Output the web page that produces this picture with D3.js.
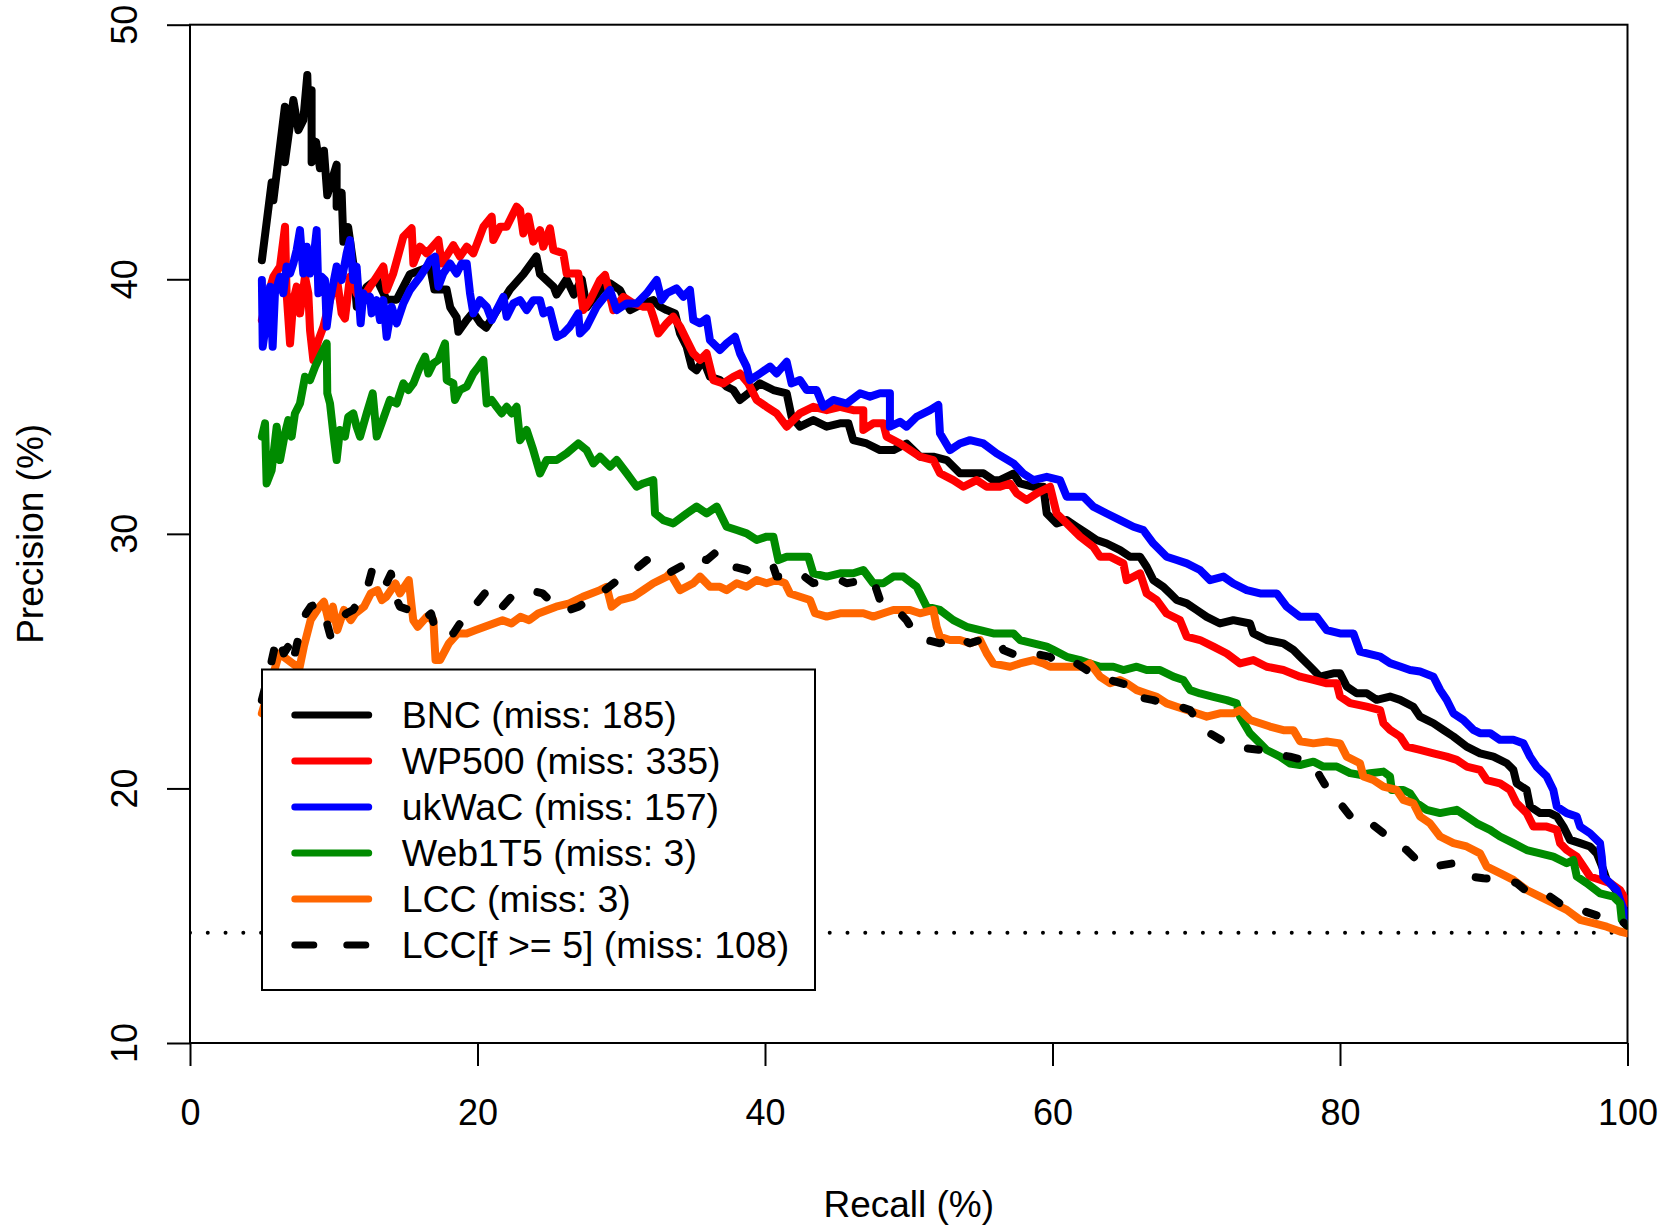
<!DOCTYPE html>
<html>
<head>
<meta charset="utf-8">
<script src="https://cdn.jsdelivr.net/npm/d3@7"></script>
<style>
  body { margin: 0; background: #fff; }
  text { font-family: "Liberation Sans", Arial, Helvetica, sans-serif; fill: #000; }
</style>
</head>
<body>
<svg id="chart"></svg>
<script>

// DATA
// --------------------------------------------------------------------------

var xTicks = [0, 20, 40, 60, 80, 100];
var yTicks = [10, 20, 30, 40, 50];
var baseline = 14.33;

// [recall %, precision %].
var bnc = [
  [5.0,40.75],[5.68,43.8],[5.8,43.1],[6.6,46.78],[6.6,44.6],[7.19,47.04],[7.54,45.86],[7.88,46.25],
  [8.16,48.02],[8.23,46.6],[8.46,47.43],[8.46,44.6],[8.77,45.4],[9.04,44.36],[9.32,45.05],[9.55,43.3],
  [10.2,44.5],[10.2,42.85],[10.55,43.4],[10.67,41.47],[11.0,42.05],[11.36,40.62],[11.6,38.92],[12.29,39.7],
  [12.99,40.0],[13.68,39.2],[14.38,39.2],[15.3,40.2],[16.7,40.5],[17.0,39.6],[17.85,39.6],[18.1,38.9],
  [18.55,38.5],[18.67,37.94],[19.25,38.4],[19.7,38.7],[20.17,38.3],[20.6,38.1],[22.26,39.6],[23.2,40.2],
  [24.1,40.9],[24.35,40.2],[25.3,39.7],[25.5,39.4],[26.2,40.0],[26.7,39.4],[27.25,40.0],[27.6,38.9],
  [28.52,39.58],[29.22,39.84],[29.91,39.58],[30.61,38.79],[31.53,39.05],[32.23,39.18],[32.7,38.92],
  [33.16,38.79],[33.74,38.66],[34.09,37.87],[34.55,37.35],[34.9,36.57],[35.24,36.43],[35.71,36.83],
  [36.17,36.17],[36.87,36.04],[37.33,35.78],[37.8,35.65],[38.26,35.26],[38.84,35.52],[39.65,35.91],
  [40.58,35.65],[41.51,35.52],[41.85,34.6],[42.43,34.21],[43.36,34.47],[44.29,34.21],[45.22,34.34],
  [45.8,34.34],[46.14,33.68],[47.07,33.55],[48.0,33.29],[48.93,33.29],[49.85,33.55],[50.78,33.03],
  [51.71,33.03],[52.64,32.9],[53.56,32.38],[54.26,32.38],[55.19,32.38],[55.88,32.11],[56.35,32.11],
  [57.28,32.37],[57.74,31.98],[58.67,31.85],[59.36,31.85],[59.6,30.8],[60.29,30.41],[60.99,30.54],
  [61.68,30.28],[62.38,30.02],[63.07,29.76],[63.77,29.62],[64.7,29.36],[65.39,29.1],[66.09,29.1],
  [66.55,28.71],[67.02,28.18],[67.71,27.92],[68.18,27.66],[68.64,27.4],[69.34,27.27],[70.03,27.01],
  [70.73,26.74],[71.65,26.48],[72.58,26.61],[73.74,26.48],[73.97,26.09],[74.9,25.83],[76.06,25.7],
  [76.76,25.44],[77.22,25.18],[77.92,24.79],[78.61,24.39],[79.54,24.52],[80.0,24.52],[80.47,24.0],
  [81.16,23.74],[81.86,23.74],[82.55,23.48],[83.48,23.61],[84.18,23.48],[85.1,23.21],[85.57,22.82],
  [86.5,22.56],[87.19,22.3],[87.89,22.04],[88.81,21.64],[89.74,21.38],[90.67,21.25],[91.6,20.99],
  [92.06,20.73],[92.29,20.2],[92.99,19.94],[93.22,19.29],[93.92,19.03],[94.61,19.03],[95.08,18.9],
  [95.54,18.5],[96.0,17.98],[96.7,17.85],[97.39,17.72],[97.86,17.45],[98.32,16.8],[98.55,16.41],
  [99.02,16.14],[99.48,15.75],[99.83,15.23],[100,14.97]
];

var wp500 = [
  [5.0,38.4],[5.33,39.18],[5.8,40.1],[6.26,40.5],[6.61,42.06],[6.72,39.45],[6.96,37.48],[7.19,39.18],
  [7.42,39.71],[7.65,38.66],[8.0,40.1],[8.23,39.45],[8.35,38.0],[8.58,36.83],[8.93,37.6],[9.28,38.14],
  [9.74,39.18],[10.2,40.1],[10.55,38.66],[10.78,38.46],[11.13,40.1],[11.59,39.45],[11.94,39.18],
  [12.52,39.71],[12.99,40.1],[13.45,40.5],[13.68,39.58],[14.14,40.23],[14.84,41.67],[15.42,42.0],
  [15.54,40.62],[16.0,41.28],[16.46,41.02],[17.28,41.54],[17.51,40.62],[18.32,41.34],[18.78,40.89],
  [19.25,41.28],[19.71,41.02],[20.41,42.06],[20.99,42.46],[21.1,41.54],[21.57,42.06],[22.03,42.06],
  [22.72,42.85],[22.96,42.72],[23.19,41.8],[23.54,42.46],[23.88,41.48],[24.35,41.93],[24.58,41.28],
  [25.04,42.0],[25.28,41.15],[25.97,41.02],[26.2,40.23],[27.01,40.23],[27.36,38.79],[27.83,39.18],
  [28.52,39.97],[28.87,40.17],[29.45,38.79],[30.14,39.31],[30.84,39.05],[31.53,38.92],[32.0,38.92],
  [32.23,38.53],[32.58,37.87],[33.16,38.27],[33.62,38.53],[34.09,38.14],[34.55,37.61],[35.01,37.09],
  [35.48,36.83],[35.94,37.09],[36.4,36.04],[37.1,35.91],[37.8,36.17],[38.26,36.3],[38.84,35.91],
  [39.42,35.26],[40.11,34.99],[40.81,34.73],[41.51,34.21],[42.43,34.73],[43.36,34.99],[44.29,34.86],
  [45.22,34.99],[46.14,34.86],[46.84,34.86],[46.84,34.08],[47.53,34.34],[48.23,34.34],[48.46,33.82],
  [49.39,33.55],[50.09,33.29],[50.78,33.03],[51.71,32.9],[52.17,32.38],[53.1,32.11],[53.8,31.85],
  [54.72,32.11],[55.42,31.85],[56.35,31.85],[57.05,31.98],[57.51,31.59],[58.2,31.33],[58.9,31.59],
  [59.83,31.85],[60.29,30.8],[60.99,30.41],[61.92,29.89],[62.84,29.49],[63.31,29.1],[64.0,29.1],
  [64.93,28.84],[65.16,28.18],[66.09,28.45],[66.55,27.66],[67.25,27.4],[67.94,26.87],[68.87,26.61],
  [69.34,25.96],[70.26,25.83],[71.19,25.57],[72.12,25.3],[73.05,24.91],[73.97,25.04],[74.9,24.78],
  [76.06,24.65],[77.22,24.39],[78.15,24.26],[79.08,24.13],[79.77,24.13],[80.0,23.61],[80.7,23.35],
  [81.86,23.21],[82.79,23.08],[83.02,22.56],[83.48,22.3],[84.18,22.04],[84.64,21.64],[85.57,21.51],
  [86.5,21.38],[87.42,21.25],[88.12,21.12],[88.81,20.86],[89.74,20.73],[90.21,20.33],[91.13,20.2],
  [91.83,19.94],[92.29,19.42],[92.99,19.03],[93.45,18.5],[94.38,18.5],[95.08,18.37],[95.31,17.85],
  [95.77,17.58],[96.47,17.32],[96.93,16.93],[97.39,16.54],[98.09,16.41],[98.79,16.28],[99.48,16.01],
  [100,15.5]
];

var ukwac = [
  [5.0,39.97],[5.06,37.35],[5.33,38.4],[5.57,39.71],[5.75,37.35],[5.91,39.45],[6.26,40.1],[6.49,39.45],
  [6.72,40.5],[6.96,40.23],[7.19,40.62],[7.42,41.15],[7.65,41.93],[7.88,40.23],[8.12,41.28],[8.35,40.23],
  [8.58,40.75],[8.81,41.93],[8.93,39.45],[9.16,40.1],[9.39,39.97],[9.51,38.14],[9.74,39.18],[10.2,40.5],
  [10.55,39.97],[10.9,41.02],[11.13,41.54],[11.36,39.97],[11.59,40.5],[11.87,38.27],[12.06,39.45],
  [12.29,39.18],[12.52,39.31],[12.64,38.66],[12.99,39.18],[13.22,38.4],[13.45,39.18],[13.68,37.74],
  [14.03,38.92],[14.38,38.27],[14.84,39.05],[15.3,39.58],[16.0,40.1],[16.46,40.5],[16.7,40.75],
  [17.04,40.89],[17.28,39.71],[17.62,40.23],[18.09,40.62],[18.55,40.23],[18.9,40.62],[19.25,40.62],
  [19.48,39.45],[19.71,38.66],[20.17,39.18],[20.64,38.92],[20.99,38.4],[21.33,38.79],[21.8,39.31],
  [22.03,38.53],[22.49,39.05],[22.96,39.18],[23.42,38.79],[23.88,39.18],[24.35,39.18],[24.58,38.66],
  [25.04,38.79],[25.51,37.74],[25.97,37.87],[26.43,38.14],[27.01,38.66],[27.13,37.87],[27.59,38.14],
  [28.29,38.92],[29.22,39.58],[29.68,38.79],[30.38,39.05],[31.07,39.05],[31.77,39.45],[32.46,39.97],
  [32.81,39.18],[33.16,39.45],[33.85,39.64],[34.32,39.31],[34.78,39.58],[35.01,38.4],[35.48,38.27],
  [35.94,38.46],[36.17,37.61],[36.87,37.22],[37.33,37.48],[37.91,37.74],[38.26,37.09],[38.72,36.57],
  [38.95,36.04],[39.65,36.3],[40.35,36.57],[40.81,36.3],[41.51,36.76],[41.85,35.91],[42.43,36.04],
  [42.9,35.65],[43.59,35.65],[44.06,34.99],[44.75,35.26],[45.68,35.12],[46.61,35.52],[47.3,35.39],
  [48.0,35.52],[48.69,35.52],[48.69,34.21],[49.39,34.4],[49.85,34.21],[50.55,34.6],[51.48,34.86],
  [52.06,35.06],[52.17,33.95],[52.87,33.29],[53.56,33.55],[54.26,33.68],[55.19,33.55],[56.11,33.16],
  [57.28,32.77],[57.97,32.37],[58.67,32.11],[59.6,32.24],[60.52,32.11],[60.99,31.46],[62.15,31.46],
  [62.84,31.07],[63.77,30.8],[64.7,30.54],[65.63,30.28],[66.32,30.15],[67.02,29.62],[67.94,29.1],
  [68.64,28.97],[69.34,28.84],[70.26,28.58],[70.96,28.18],[71.89,28.32],[72.58,28.05],[73.51,27.79],
  [74.44,27.66],[75.6,27.66],[76.29,27.14],[77.22,26.74],[78.38,26.74],[79.07,26.22],[80.0,26.09],
  [80.93,26.09],[81.39,25.37],[82.79,25.18],[83.48,24.92],[84.18,24.79],[84.87,24.65],[85.57,24.59],
  [86.5,24.39],[86.96,23.87],[87.42,23.48],[87.89,22.95],[88.58,22.69],[89.28,22.3],[89.74,22.17],
  [90.44,22.17],[91.13,21.91],[92.06,21.91],[92.76,21.77],[93.22,21.25],[93.68,20.86],[94.38,20.47],
  [94.84,19.94],[95.08,19.29],[95.77,19.03],[96.47,18.9],[96.7,18.5],[97.39,18.24],[98.09,17.85],
  [98.21,17.32],[98.32,16.54],[98.79,16.28],[99.25,16.01],[99.48,15.62],[99.83,15.1],[100,14.84]
];

var web1t5 = [
  [5.0,33.82],[5.22,34.34],[5.33,31.98],[5.68,32.5],[6.03,34.21],[6.26,32.9],[6.61,33.95],[6.84,34.47],
  [7.07,33.82],[7.3,34.73],[7.65,35.12],[8.0,36.17],[8.35,36.04],[8.7,36.56],[9.04,36.96],[9.51,37.48],
  [9.55,35.52],[9.74,35.12],[9.97,33.95],[10.2,32.9],[10.43,34.08],[10.78,33.82],[11.01,34.6],
  [11.36,34.73],[11.59,34.21],[11.83,33.82],[12.29,34.73],[12.71,35.52],[12.99,33.82],[13.33,34.34],
  [13.91,35.26],[14.38,35.12],[14.84,35.91],[15.19,35.65],[15.54,35.91],[16.0,36.56],[16.35,36.96],
  [16.58,36.3],[16.93,36.7],[17.28,36.83],[17.74,37.48],[17.86,36.04],[18.32,35.91],[18.43,35.26],
  [18.78,35.65],[19.25,35.78],[19.71,36.3],[20.06,36.56],[20.41,36.83],[20.64,35.12],[20.99,35.26],
  [21.33,34.99],[21.68,34.73],[22.03,34.99],[22.38,34.73],[22.72,34.99],[22.96,33.68],[23.42,34.08],
  [23.88,33.29],[24.35,32.37],[24.81,32.9],[25.51,32.9],[26.2,33.16],[27.01,33.55],[27.59,33.29],
  [28.06,32.77],[28.52,33.03],[29.22,32.64],[29.68,32.9],[30.38,32.38],[31.07,31.85],[31.53,31.98],
  [32.23,32.11],[32.35,30.8],[32.93,30.54],[33.62,30.41],[34.55,30.8],[35.24,31.07],[35.94,30.8],
  [36.64,31.07],[37.33,30.28],[38.03,30.15],[38.72,30.02],[39.42,29.76],[40.11,29.89],[40.58,29.89],
  [40.93,28.97],[41.51,29.1],[42.43,29.1],[43.01,29.1],[43.36,28.45],[44.29,28.32],[45.22,28.45],
  [46.14,28.45],[46.84,28.58],[47.53,28.06],[48.23,28.06],[48.93,28.32],[49.62,28.32],[50.55,27.92],
  [51.24,27.14],[52.17,27.01],[53.1,26.61],[54.03,26.35],[54.96,26.22],[55.88,26.09],[57.28,26.09],
  [57.74,25.83],[58.67,25.7],[59.6,25.57],[60.06,25.44],[60.99,25.17],[61.92,25.04],[62.61,24.91],
  [63.31,24.78],[64.23,24.78],[64.93,24.65],[65.86,24.78],[66.55,24.65],[67.48,24.65],[68.41,24.39],
  [69.1,24.26],[69.57,23.86],[70.26,23.73],[71.19,23.6],[72.12,23.47],[72.81,23.34],[73.05,22.82],
  [73.74,22.16],[74.44,21.77],[74.9,21.51],[75.83,21.25],[76.52,20.98],[77.22,20.92],[78.15,21.05],
  [78.84,20.86],[79.77,20.86],[80.7,20.6],[81.39,20.53],[82.09,20.6],[83.02,20.66],[83.48,20.47],
  [83.6,19.94],[84.41,19.94],[84.87,19.81],[85.34,19.42],[86.03,19.16],[86.96,19.03],[88.12,19.16],
  [88.81,18.9],[89.51,18.63],[90.44,18.37],[91.13,18.11],[92.06,17.85],[92.99,17.58],[93.92,17.45],
  [94.84,17.32],[95.77,17.06],[96.23,17.19],[96.47,16.54],[97.16,16.28],[98.09,15.88],[99.02,15.75],
  [99.48,15.49],[99.6,14.84],[100,14.57]
];

var lcc = [
  [5.0,22.95],[6.21,25.3],[7.61,24.71],[7.92,25.57],[8.39,26.61],[9.01,27.14],[9.32,27.33],[9.63,26.61],
  [9.94,27.14],[10.25,26.22],[10.71,27.01],[11.18,26.61],[11.49,26.87],[12.11,27.14],[12.58,27.66],
  [13.04,27.79],[13.35,27.4],[13.66,27.53],[14.29,28.05],[14.6,27.66],[15.22,28.18],[15.37,27.4],
  [15.53,26.61],[15.84,26.35],[16.46,26.74],[16.93,26.61],[17.08,25.04],[17.39,25.04],[18.01,25.7],
  [18.63,26.09],[19.25,26.09],[19.88,26.22],[21.12,26.48],[21.74,26.61],[22.36,26.48],[22.98,26.74],
  [23.6,26.61],[24.22,26.87],[25.47,27.14],[26.4,27.27],[27.33,27.53],[28.52,27.79],[28.98,27.92],
  [29.33,27.14],[29.91,27.4],[30.84,27.53],[31.53,27.79],[32.23,28.06],[33.16,28.32],[33.39,28.45],
  [34.09,27.79],[35.01,28.06],[35.48,28.32],[36.17,27.92],[36.87,27.92],[37.33,27.79],[38.03,28.06],
  [38.72,27.92],[39.42,28.19],[40.11,28.06],[40.81,28.19],[41.39,28.06],[41.74,27.66],[42.43,27.53],
  [43.13,27.4],[43.48,26.88],[44.29,26.75],[45.22,26.88],[46.14,26.88],[46.84,26.88],[47.53,26.75],
  [48.23,26.88],[48.93,27.01],[49.39,27.01],[50.09,27.01],[50.78,26.88],[51.71,27.01],[51.94,26.35],
  [52.17,25.96],[52.87,25.83],[53.56,25.83],[54.26,25.7],[54.96,25.83],[55.42,25.31],[55.88,24.9],
  [57.05,24.78],[57.74,24.91],[58.67,25.04],[59.36,24.91],[59.83,24.78],[60.52,24.78],[61.45,24.78],
  [62.15,24.78],[62.61,24.91],[63.31,24.39],[64.0,24.13],[64.7,24.26],[65.16,24.13],[65.86,23.86],
  [66.55,23.73],[67.25,23.6],[67.94,23.34],[68.64,23.21],[69.34,23.08],[70.03,22.95],[70.73,22.82],
  [71.65,22.95],[72.58,22.95],[73.05,23.08],[73.74,22.69],[74.44,22.56],[75.13,22.43],[76.06,22.29],
  [76.76,22.29],[77.22,21.85],[78.15,21.77],[79.08,21.84],[80.0,21.77],[80.47,21.25],[81.39,20.99],
  [81.63,20.47],[82.32,20.33],[83.02,20.07],[83.94,19.94],[84.41,19.55],[85.1,19.42],[85.57,18.9],
  [86.26,18.63],[86.96,18.11],[87.89,17.85],[88.81,17.72],[89.74,17.45],[90.21,16.93],[91.13,16.67],
  [92.06,16.41],[92.99,16.01],[93.92,15.75],[94.84,15.49],[95.77,15.23],[96.7,14.84],[97.63,14.71],
  [98.55,14.57],[99.48,14.38],[100,14.31]
];

var lccF5 = [
  [5.0,23.47],[5.59,24.78],[5.9,25.57],[6.21,25.96],[6.52,25.3],[6.83,25.57],[7.14,24.91],[7.45,25.7],
  [7.76,26.35],[8.07,26.87],[8.39,27.14],[8.85,27.27],[9.16,27.01],[9.47,26.61],[9.78,25.96],
  [10.25,26.48],[10.87,26.87],[11.34,27.01],[11.8,27.4],[12.42,28.05],[12.73,28.71],[13.04,28.31],
  [13.66,28.05],[13.98,28.44],[14.29,27.53],[14.6,27.14],[15.22,27.01],[15.53,26.74],[16.15,26.61],
  [16.77,26.87],[17.08,26.22],[17.7,25.96],[18.32,26.09],[18.94,26.61],[19.57,27.01],[20.5,27.66],
  [21.12,27.01],[21.74,27.14],[22.36,27.53],[23.6,27.79],[24.53,27.66],[25.47,27.14],[26.4,27.01],
  [27.02,27.14],[28.26,27.53],[29.91,28.25],[30.38,28.32],[31.77,28.97],[32.23,28.71],[32.93,28.58],
  [33.27,28.45],[34.55,28.84],[35.01,29.1],[35.94,28.97],[36.64,29.3],[37.33,28.84],[37.8,28.71],
  [38.72,28.58],[39.19,28.45],[40.58,28.71],[40.81,28.32],[41.74,28.32],[42.43,28.45],[43.36,28.06],
  [44.29,28.19],[45.22,28.19],[45.68,28.06],[47.07,28.19],[47.53,28.19],[48.0,27.4],[48.46,27.14],
  [49.39,26.88],[49.85,26.61],[50.55,25.96],[51.24,25.83],[52.17,25.7],[53.33,25.96],[54.26,25.7],
  [54.96,25.83],[56.35,25.7],[56.58,25.44],[57.74,25.17],[58.67,25.3],[59.83,25.17],[60.29,24.91],
  [61.68,24.91],[62.38,24.65],[63.31,24.52],[64.0,24.26],[65.63,24.0],[65.86,23.6],[67.02,23.47],
  [67.71,23.34],[68.87,23.21],[69.57,23.08],[70.5,22.29],[70.96,22.16],[72.12,21.77],[72.58,21.64],
  [74.44,21.51],[74.9,21.38],[76.52,21.25],[77.22,21.15],[78.15,20.95],[78.61,20.47],[79.54,19.6],
  [80.0,19.42],[80.93,18.76],[81.86,18.76],[83.02,18.24],[83.48,17.98],[84.64,17.58],[85.34,17.19],
  [86.5,16.93],[87.89,17.06],[89.05,16.54],[89.97,16.47],[91.6,16.41],[92.29,16.28],[93.45,15.75],
  [94.61,15.75],[95.77,15.29],[96.7,15.23],[98.09,14.97],[99.02,14.97],[99.48,14.84],[100,14.6]
];

var seriesData   = [bnc, wp500, ukwac, web1t5, lcc, lccF5];
var seriesLabels = [
  'BNC (miss: 185)',
  'WP500 (miss: 335)',
  'ukWaC (miss: 157)',
  'Web1T5 (miss: 3)',
  'LCC (miss: 3)',
  'LCC[f >= 5] (miss: 108)'
];
var seriesColors = ['#000000', '#ff0000', '#0000ff', '#008b00', '#ff6600', '#000000'];
var seriesDashed = [false, false, false, false, false, true];


// LAYOUT
// --------------------------------------------------------------------------

var W = 1677, H = 1226;
var plot = { left: 190, right: 1627.5, top: 24.7, bottom: 1043 };

var svg = d3.select('#chart').attr('width', W).attr('height', H);
svg.append('rect').attr('width', W).attr('height', H).attr('fill', '#fff');

var x = d3.scaleLinear().domain([0, 100]).range([plot.left, plot.right]);
var y = d3.scaleLinear().domain([10, 50]).range([plot.bottom, plot.top]);

var series = seriesData.map(function(d, i) {
  return { data: d, label: seriesLabels[i], color: seriesColors[i], dashed: seriesDashed[i] };
});

svg.append('clipPath').attr('id', 'plot-clip')
  .append('rect')
  .attr('x', plot.left).attr('y', plot.top)
  .attr('width', plot.right - plot.left).attr('height', plot.bottom - plot.top);


// AXES
// --------------------------------------------------------------------------

var xAxis = d3.axisBottom(x).tickValues(xTicks).tickSize(23).tickPadding(33)
  .tickFormat(d3.format('d'));
var gx = svg.append('g').attr('transform', 'translate(0,' + plot.bottom + ')').call(xAxis);

var yAxis = d3.axisLeft(y).tickValues(yTicks).tickSize(23).tickFormat('');
var gy = svg.append('g').attr('transform', 'translate(' + plot.left + ',0)').call(yAxis);

[gx, gy].forEach(function(g) {
  g.select('.domain').remove();
  g.selectAll('.tick line').attr('stroke', '#000').attr('stroke-width', 2);
});
gx.selectAll('.tick text')
  .attr('font-size', 36).attr('fill', '#000')
  .attr('font-family', '"Liberation Sans", Arial, sans-serif');

// Y labels run along the axis, as in R.
svg.append('g').selectAll('text').data(yTicks).join('text')
  .attr('transform', function(d) { return 'translate(136.7,' + y(d) + ') rotate(-90)'; })
  .attr('text-anchor', 'middle')
  .attr('font-size', 36)
  .text(function(d) { return d; });

// Frame.
svg.append('rect')
  .attr('x', plot.left).attr('y', plot.top)
  .attr('width', plot.right - plot.left).attr('height', plot.bottom - plot.top)
  .attr('fill', 'none').attr('stroke', '#000').attr('stroke-width', 2);

svg.append('text')
  .attr('x', (plot.left + plot.right) / 2).attr('y', 1217)
  .attr('text-anchor', 'middle').attr('font-size', 37)
  .text('Recall (%)');

svg.append('text')
  .attr('transform', 'translate(43,' + ((plot.top + plot.bottom) / 2) + ') rotate(-90)')
  .attr('text-anchor', 'middle').attr('font-size', 37)
  .text('Precision (%)');


// CURVES
// --------------------------------------------------------------------------

var marks = svg.append('g').attr('clip-path', 'url(#plot-clip)');

// Baseline precision.
marks.append('line')
  .attr('x1', x(0)).attr('x2', x(100))
  .attr('y1', y(baseline)).attr('y2', y(baseline))
  .attr('stroke', '#000').attr('stroke-width', 4)
  .attr('stroke-linecap', 'round')
  .attr('stroke-dasharray', '0,17.77');

var line = d3.line()
  .x(function(d) { return x(d[0]); })
  .y(function(d) { return y(d[1]); });

marks.selectAll('path.curve').data(series).join('path')
  .attr('class', 'curve')
  .attr('d', function(s) { return line(s.data); })
  .attr('fill', 'none')
  .attr('stroke', function(s) { return s.color; })
  .attr('stroke-width', 8)
  .attr('stroke-linejoin', 'round')
  .attr('stroke-linecap', 'round')
  .attr('stroke-dasharray', function(s) { return s.dashed ? '11,29' : null; });


// LEGEND
// --------------------------------------------------------------------------

var legend = { left: 262, top: 669.5, right: 815, bottom: 990, row0: 715, step: 46 };

var lg = svg.append('g');

lg.append('rect')
  .attr('x', legend.left).attr('y', legend.top)
  .attr('width', legend.right - legend.left).attr('height', legend.bottom - legend.top)
  .attr('fill', '#fff').attr('stroke', '#000').attr('stroke-width', 2);

var rows = lg.selectAll('g.row').data(series).join('g')
  .attr('class', 'row')
  .attr('transform', function(s, i) { return 'translate(0,' + (legend.row0 + i * legend.step) + ')'; });

rows.append('line')
  .attr('x1', 294.8).attr('x2', 368.7)
  .attr('stroke', function(s) { return s.color; })
  .attr('stroke-width', 7)
  .attr('stroke-linecap', 'round')
  .attr('stroke-dasharray', function(s) { return s.dashed ? '19,33' : null; });

rows.append('text')
  .attr('x', 401.7).attr('y', 13)
  .attr('font-size', 37.5)
  .text(function(s) { return s.label; });

</script>
</body>
</html>
